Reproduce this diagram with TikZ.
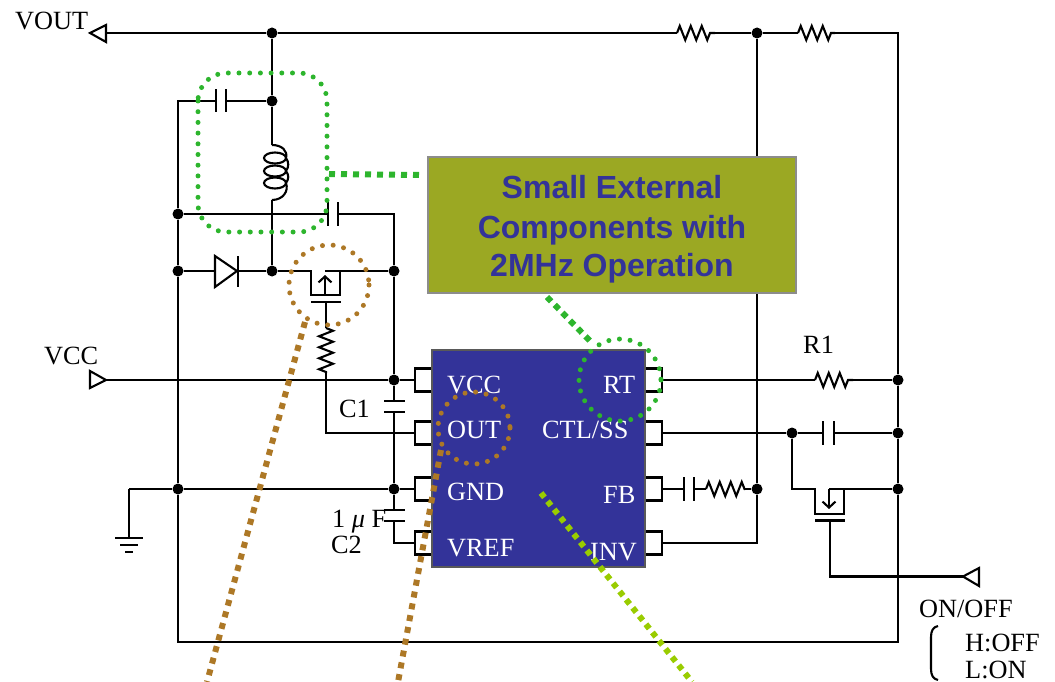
\documentclass[tikz,border=0pt]{standalone}
\usepackage{fontspec}
\setmainfont{Liberation Serif}
\newfontfamily\boxfont{Liberation Sans}
\usetikzlibrary{decorations.pathmorphing,arrows.meta}
\definecolor{chipblue}{HTML}{333399}
\definecolor{boxolive}{HTML}{9BA823}
\definecolor{dotgreen}{HTML}{2DB52D}
\definecolor{dotbrown}{HTML}{AD7826}
\definecolor{dotlime}{HTML}{99CC00}
\tikzset{
  wire/.style={line width=2.1pt},
  dot/.style={circle,fill=black,minimum size=11pt,inner sep=0pt},
  pin/.style={draw,line width=2.1pt,minimum width=17pt,minimum height=23pt,inner sep=0pt},
  plateh/.style={fill=black,minimum width=24pt,minimum height=2.2pt,inner sep=0pt},
  platev/.style={fill=black,minimum width=2.2pt,minimum height=24pt,inner sep=0pt},
  res/.style={wire,decorate,decoration={zigzag,segment length=11pt,amplitude=7pt}},
  lbl/.style={anchor=base west,inner sep=0pt,font=\fontsize{26.3}{26}\selectfont},
  chiplbl/.style={lbl,text=white},
  roundspots/.style={line width=5pt,line cap=round,dash pattern=on 0pt off 10.7pt},
  squarespots/.style={line width=6pt,dash pattern=on 6pt off 6pt},
}
\begin{document}
\begin{tikzpicture}[x=1pt,y=-1pt]
  \useasboundingbox (0,0) rectangle (1055,682);

  % Junctions
  \foreach \n/\x/\y in {top/272/33, fbtop/757/33, capl/272/101, ltop/178/214, dl/178/271, sw/272/271,
      dr/394/271, vccn/394/380, gndl/178/489, gndn/394/489, rtr/898/380, ctln/792/433, ctlr/898/433,
      offr/898/489, fbr/757/489}
    \node[dot] (\n) at (\x,\y) {};

  % Pins on both sides
  \foreach \n/\y in {vcc/380, out/433, gnd/489, vref/543}
    \node[pin] (l\n) at (423.5,\y) {};
  \foreach \n/\y in {rt/380, ctl/433, fb/489, inv/543}
    \node[pin] (r\n) at (653.5,\y) {};

  % Capacitor plates
  \node[platev,minimum height=23pt] (ca) at (216,101) {};
  \node[platev,minimum height=23pt] (cb) at (226,101) {};
  \node[platev] (cc) at (328,214) {};
  \node[platev] (cd) at (338,214) {};
  \node[plateh,minimum width=21pt] (ce) at (394,401) {};
  \node[plateh,minimum width=21pt] (cf) at (394,412) {};
  \node[plateh,minimum width=21pt] (cg) at (394,510) {};
  \node[plateh,minimum width=21pt] (ch) at (394,521) {};
  \node[platev] (ci) at (823,433) {};
  \node[platev] (cj) at (834,433) {};
  \node[platev] (ck) at (684,489) {};
  \node[platev] (cl) at (694,489) {};

  % Free ends and resistor ends
  \coordinate (voutend) at (106,33);
  \coordinate (vccend) at (106,380);
  \coordinate (offend) at (963,576.5);
  \coordinate (ra) at (677,33);
  \coordinate (rb) at (715,33);
  \coordinate (rc) at (798,33);
  \coordinate (rd) at (835,33);
  \coordinate (re) at (815,380);
  \coordinate (rf) at (853,380);
  \coordinate (rg) at (706,489);
  \coordinate (rh) at (745,489);
  \coordinate (ri) at (326,328);
  \coordinate (rj) at (326,373);
  \coordinate (corner) at (898,642);
  \coordinate (cornerl) at (178,642);
  \coordinate (lcoilt) at (272,145);
  \coordinate (lcoilb) at (272,200);
  \coordinate (diodea) at (215,271);
  \coordinate (diodeb) at (238,271);
  \coordinate (gndtop) at (129,489);
  \coordinate (gndbot) at (129,538);

  % Rails
  \draw[wire] (voutend) -- (top) -- (ra);
  \draw[res] (ra) -- (rb);
  \draw[wire] (rb) -- (fbtop) -- (rc);
  \draw[res] (rc) -- (rd);
  \draw[wire] (rd) -| (rtr) -- (ctlr) -- (offr) -- (corner) -- (cornerl) -- (gndl) -- (dl) -- (ltop) |- (ca);
  \draw[wire] (cb) -- (capl) -- (top);
  \draw[wire] (capl) -- (lcoilt);
  \draw[wire] (lcoilb) -- (sw);
  \draw[wire] (ltop) -- (cc);
  \draw[wire] (cd) -| (dr) -- (vccn) -- (ce);
  \draw[wire] (cf) -- (gndn) -- (cg);
  \draw[wire] (ch) |- (lvref.west);
  \draw[wire] (fbtop) -- (fbr) |- (rinv.east);

  % Coil
  \draw[wire] (lcoilt) .. controls (282,145) and (288,151) .. (286,158)
     .. controls (289,162) and (289,167) .. (286,171)
     .. controls (289,175) and (289,179) .. (286,183)
     .. controls (289,191) and (283,200) .. (lcoilb);
  \foreach \y in {158,171,183}
    \draw[wire] (275,\y) ellipse (11 and 5.5);

  % Diode
  \draw[wire] (dl) -- (diodea);
  \draw[wire] (215,256) -- (237,271) -- (215,287) -- cycle;
  \draw[wire] (diodeb |- 0,256) -- (diodeb |- 0,287);
  \draw[wire] (diodeb) -- (sw);

  % Upper switch
  \draw[wire] (sw) -- (311,271) -- (311,295) -- (340,295) -- (340,271) -- (325,271);
  \draw[wire] (340,271) -- (dr);
  \draw[wire,-{Straight Barb[length=6pt,width=13pt]}] (325,295) -- (325,275);
  \node[plateh,minimum width=30pt] (gatea) at (326,302) {};
  \draw[wire] (gatea) -- (ri);
  \draw[res] (ri) -- (rj);
  \draw[wire] (rj) |- (lout.west);

  % Left signals
  \draw[wire] (vccend) -- (vccn) -- (lvcc.west);
  \draw[wire] (gndtop) -- (gndl) -- (gndn) -- (lgnd.west);
  \draw[wire] (gndtop) -- (gndbot);
  \draw[wire] (115,538) -- (143,538);
  \draw[wire] (120,545) -- (138,545);
  \draw[wire] (125,552) -- (133,552);

  % Right signals
  \draw[wire] (rrt.east) -- (re);
  \draw[res] (re) -- (rf);
  \draw[wire] (rf) -- (rtr);
  \draw[wire] (rctl.east) -- (ctln) -- (ci);
  \draw[wire] (cj) -- (ctlr);
  \draw[wire] (rfb.east) -- (ck);
  \draw[wire] (cl) -- (rg);
  \draw[res] (rg) -- (rh);
  \draw[wire] (rh) -- (fbr);

  % Lower switch
  \draw[wire] (ctln) |- (815,489) -- (815,514) -- (844,514) -- (844,489) -- (829,489);
  \draw[wire] (844,489) -- (offr);
  \draw[wire,-{Straight Barb[length=6pt,width=13pt]}] (829,489) -- (829,509);
  \node[plateh,minimum width=30pt] (gateb) at (830,520.5) {};
  \draw[wire] (gateb) |- (offend);

  % Port triangles
  \draw[wire] (106,25) -- (90,33) -- (106,42) -- cycle;
  \draw[wire] (90,371) -- (106,380) -- (90,388) -- cycle;
  \draw[wire] (979,568) -- (963,576.5) -- (979,586) -- cycle;

  % Chip
  \node[draw=black!65,line width=1.6pt,fill=chipblue,minimum width=213pt,minimum height=217pt,inner sep=0pt] (chip) at (538.5,458.5) {};
  \foreach \x/\y/\t in {447/393/VCC, 447/438/OUT, 447/500/GND, 447/556/VREF,
      603/393/RT, 542/438/CTL\slash SS, 603/503/FB, 590/560/INV}
    \node[chiplbl] at (\x,\y) {\t};

  % Outside labels
  \foreach \x/\y/\t in {15/30/VOUT, 44/364/VCC, 803/353/R1, 339/417/C1, 331/553/C2,
      919/617/ON\slash OFF, 965/651/H:OFF, 965/678/L:ON}
    \node[lbl] at (\x,\y) {\t};
  \node[lbl] (cval) at (332,527) {1 \textit{μ} F};
  \draw[wire] (938,626) .. controls (933,627) and (931,631) .. (931,637) -- (931,669) .. controls (931,675) and (933,679) .. (938,680);

  % Callout box
  \node[draw=black!45,line width=1.6pt,fill=boxolive,minimum width=368pt,minimum height=136pt,inner sep=0pt] (callout) at (612,225) {};
  \foreach \y/\t in {198/Small External, 238/Components with, 276/2MHz Operation}
    \node[anchor=base,inner sep=0pt,text=chipblue,font=\boxfont\bfseries\fontsize{32}{32}\selectfont] at (612,\y) {\t};

  % Highlights
  \draw[roundspots,dotgreen,rounded corners=28pt] (198,73) rectangle (327,232);
  \draw[roundspots,dotbrown] (329,285) circle (40);
  \draw[roundspots,dotbrown] (474,428) circle (36);
  \draw[roundspots,dotgreen] (620,380) circle (41);
  \draw[squarespots,dotgreen] (329,174) -- (424,175);
  \draw[squarespots,dotgreen,dash pattern=on 6pt off 5pt] (547,297) -- (592,343);
  \draw[squarespots,dotbrown] (305,322) -- (207,682);
  \draw[squarespots,dotbrown] (441,450) -- (398,682);
  \draw[squarespots,dotlime,dash pattern=on 5.5pt off 5pt] (541,493) -- (692,682);
\end{tikzpicture}
\end{document}
